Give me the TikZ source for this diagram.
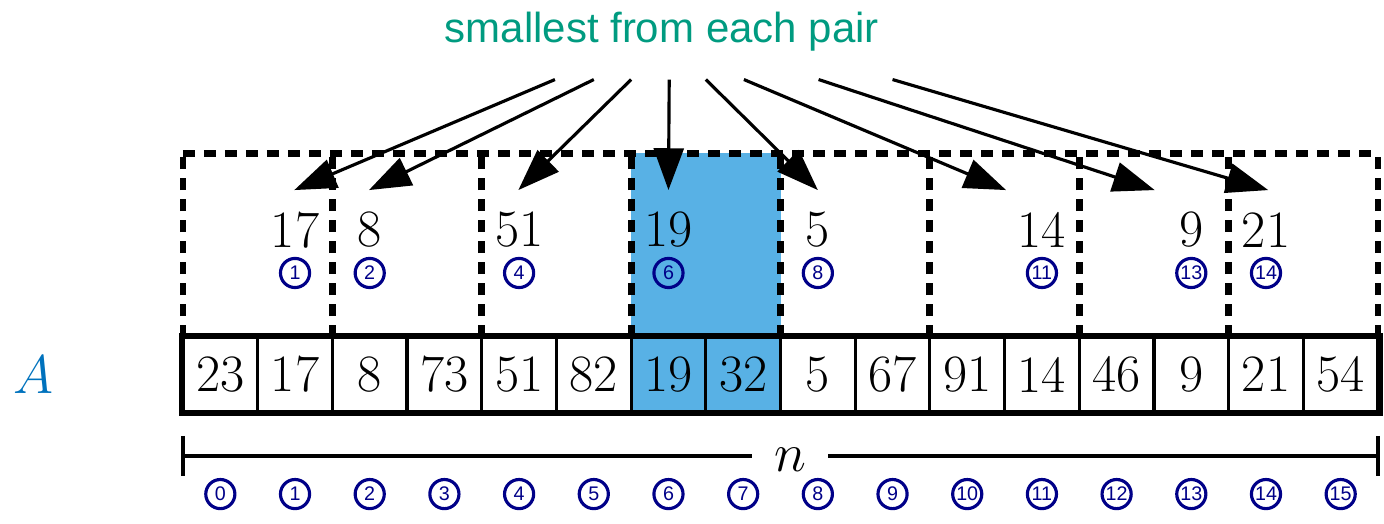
\documentclass[tikz,border=0pt]{standalone}
\usepackage{fontspec}
\newfontfamily\sansfam{Liberation Sans}
\usetikzlibrary{arrows.meta}
\definecolor{hlblue}{HTML}{58B1E5}
\definecolor{idxblue}{HTML}{000088}
\definecolor{titlegreen}{HTML}{009B80}
\definecolor{labelblue}{HTML}{0072BD}
\begin{document}
\begin{tikzpicture}[x=1cm,y=1cm,
  cell/.style={draw, line width=1.2pt, minimum size=1cm, inner sep=0pt, font=\fontsize{20}{24}\selectfont},
  val/.style={inner sep=0pt, font=\fontsize{20}{24}\selectfont},
  idx/.style={circle, draw=idxblue, line width=1.2pt, text=idxblue, minimum size=0.39cm, inner sep=0pt, font=\sansfam\fontsize{7.5}{8}\selectfont},
  dashbox/.style={line width=2.6pt, dash pattern=on 4.5pt off 3.5pt},
  pick/.style={line width=1.2pt, -{Triangle[length=0.56cm,width=0.4cm]}},
  brace/.style={line width=1.2pt},
]
\useasboundingbox (-2.45,-1.50) rectangle (16.08,5.515);
\fill[hlblue] (6,0) rectangle (8,3.46);
% array cells
\foreach \v [count=\i from 0] in {23,17,8,73,51,82,19,32,5,67,91,14,46,9,21,54} {
  \node[cell] (c\i) at (\i+0.5,0.5) {\v};
}
\draw[line width=2.2pt] (c0.south west) rectangle (c15.north east);
% dashed pair boxes
\draw[dashbox] (0,3.46) -- (16,3.46);
\foreach \x in {0,2,...,16} {
  \draw[dashbox] (\x,1) -- (\x,3.46);
}
% selected values
\foreach \i/\v in {1/17,2/8,4/51,6/19,8/5,11/14,13/9,14/21} {
  \node[val] (u\i) at (\i+0.5,2.44) {\v};
  \node[idx] (ui\i) at (\i+0.5,1.86) {\i};
}
% bottom indices
\foreach \i in {0,...,15} {
  \node[idx] (b\i) at (\i+0.5,-1.10) {\i};
}
% label A
\node[text=labelblue, font=\fontsize{20}{24}\selectfont, inner sep=0pt] (lblA) at (-2.0,0.5) {$A$};
% n brace
\coordinate (nl) at (0,-0.59);
\coordinate (nr) at (16,-0.59);
\node[font=\fontsize{20}{24}\selectfont, inner sep=0pt, minimum width=1cm] (nn) at (8.13,-0.64) {$n$};
\draw[brace] (nl) -- (nn.west |- nl);
\draw[brace] (nn.east |- nr) -- (nr);
\draw[brace] ([yshift=0.27cm]nl) -- ([yshift=-0.27cm]nl);
\draw[brace] ([yshift=0.27cm]nr) -- ([yshift=-0.27cm]nr);
% title
\node[font=\sansfam\fontsize{16}{19}\selectfont, text=titlegreen, anchor=base, inner sep=0pt] (title) at (6.41,4.95) {smallest from each pair};
% arrows
\foreach \k/\sx/\tx in {1/4.98/1.49, 2/5.50/2.49, 3/6.00/4.49, 4/6.51/6.50, 5/7.00/8.50, 6/7.51/11.02, 7/8.51/13.01, 8/9.50/14.53} {
  \coordinate (s\k) at (\sx,4.45);
  \coordinate (t\k) at (\tx,2.97);
  \draw[pick] (s\k) -- (t\k);
}
\end{tikzpicture}
\end{document}
